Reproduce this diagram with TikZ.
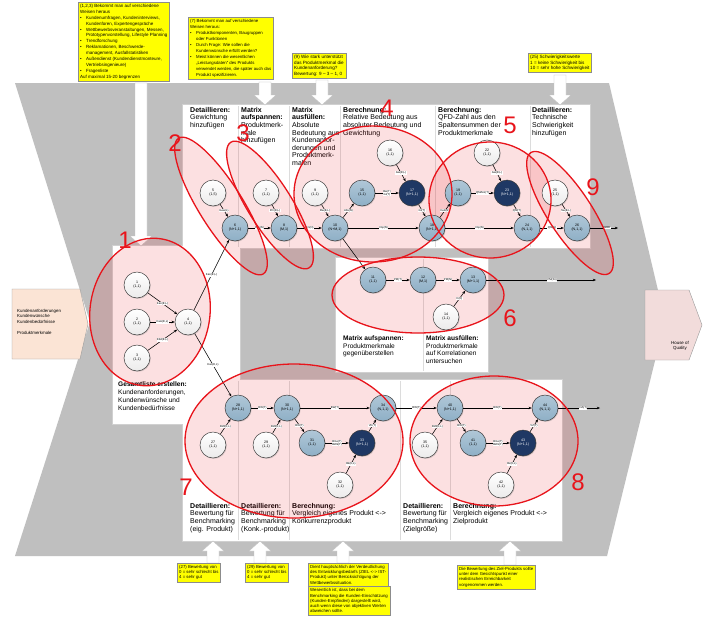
\documentclass[tikz,border=0pt]{standalone}
\usepackage{fontspec}
\setmainfont{Liberation Sans}
\usetikzlibrary{arrows.meta,shapes.geometric,shadows}
\definecolor{bandgray}{HTML}{BFBFBF}
\definecolor{panelline}{HTML}{D0D0D0}
\definecolor{divline}{HTML}{DCDCDC}
\definecolor{noteyellow}{HTML}{FFFF00}
\definecolor{nodeblue}{HTML}{8EAFC6}
\definecolor{nodenavy}{HTML}{1F3864}
\definecolor{nodeline}{HTML}{3A3A3A}
\definecolor{inpeach}{HTML}{FBE4D5}
\definecolor{hoqpink}{HTML}{F2DCDB}
\definecolor{markred}{HTML}{E8141B}
\newcommand\bulx{\makebox[6pt][l]{\textbullet}}
\newcommand\indx{\hspace*{6pt}}
\newcommand\downblock[3]{\filldraw[blockarrow] (#1-6,#2) -- (#1-6,#3-10) -- (#1-11,#3-10) -- (#1,#3) -- (#1+11,#3-10) -- (#1+6,#3-10) -- (#1+6,#2) -- cycle;}
\newcommand\upblock[3]{\filldraw[blockarrow] (#1-6,#2) -- (#1-6,#3+10) -- (#1-11,#3+10) -- (#1,#3) -- (#1+11,#3+10) -- (#1+6,#3+10) -- (#1+6,#2) -- cycle;}
\begin{document}
\begin{tikzpicture}[x=1pt,y=-1pt,
  wnode/.style={circle,draw=nodeline,line width=0.5pt,minimum size=26pt,inner sep=0pt,top color=white,bottom color=red!6!black!8,font=\fontsize{3.6}{4.2}\selectfont,align=center,drop shadow={shadow xshift=0.8pt,shadow yshift=-0.9pt,opacity=0.3}},
  bnode/.style={wnode,top color=nodeblue!70!white,bottom color=nodeblue},
  dnode/.style={wnode,top color=nodenavy,bottom color=nodenavy,text=white},
  lab/.style={fill=white,inner sep=0.4pt,font=\fontsize{2.8}{3.1}\selectfont,align=center},
  conn/.style={-{Stealth[length=3.2pt,width=2.6pt]},line width=0.55pt,black},
  ptext/.style={anchor=north west,inner sep=0pt,align=left,font=\fontsize{7.0}{7.6}\selectfont},
  notebox/.style={draw=black!45,fill=noteyellow,line width=0.4pt,anchor=north west,inner sep=2pt,align=left,font=\fontsize{4.3}{5.3}\selectfont},
  rednum/.style={text=markred,font=\fontsize{24}{24}\selectfont,inner sep=0pt},
  hilitefill/.style={fill=markred,fill opacity=0.13},
  hiliteline/.style={draw=markred,line width=1.3pt},
  blockarrow/.style={fill=white,draw=black!25,line width=0.4pt}]
\useasboundingbox (0,0) rectangle (703,624);
\fill[white] (0,0) rectangle (703,624);
% gray band
\fill[bandgray] (15,83) -- (609,83) -- (665,320) -- (607,556) -- (15,556) -- (90,322) -- cycle;
% panels
\foreach \a/\b/\c/\d in {183/105/590/248, 113/246/240/424, 336/258/488/372, 183/380/562/541}
  \fill[panelline] (\a-0.7,\b-0.7) rectangle (\c+0.7,\d+0.7);
\foreach \a/\b/\c/\d in {183/105/590/248, 113/246/240/424, 336/258/488/372, 183/380/562/541}
  \fill[white] (\a,\b) rectangle (\c,\d);
\foreach \xx in {238,289,340,435,530} \draw[divline,line width=0.4pt] (\xx,106) -- (\xx,247);
\foreach \xx in {238,289,400,450} \draw[divline,line width=0.4pt] (\xx,381) -- (\xx,540);
\draw[divline,line width=0.4pt] (423,259) -- (423,371);
% input and output boxes
\draw[fill=inpeach,draw=black!40,line width=0.4pt] (12,289) -- (80,289) -- (88,324) -- (80,359) -- (12,359) -- cycle;
\node[anchor=north west,inner sep=0pt,align=left,font=\fontsize{4.4}{5.6}\selectfont] (intext) at (17,309) {Kundenanforderungen\\Kundenwünsche\\Kundenbedürfnisse\\[5pt]Produktmerkmale};
\draw[fill=hoqpink,draw=black!40,line width=0.4pt] (645,290) -- (689,290) -- (702,325) -- (689,360) -- (645,360) -- cycle;
\node[anchor=north,inner sep=0pt,align=center,font=\fontsize{4.4}{5.6}\selectfont] (hoq) at (680,341) {House of\\Quality};
% block arrows
\downblock{141}{83}{246}
\downblock{265}{82}{105}
\downblock{322}{80}{105}
\downblock{560}{75}{105}
\upblock{213}{563}{541}
\upblock{260}{563}{541}
\upblock{343}{563}{541}
\upblock{510}{565}{541}
% notes top
\node[notebox,font=\fontsize{4.5}{5.9}\selectfont] (note1) at (78,2) {(1,2,3) Bekommt man auf verschiedene\\Weisen heraus\\
\bulx Kundenumfragen, Kundeninterviews,\\\indx Kundenforen, Expertengespräche\\
\bulx Wettbewerbsveranstaltungen, Messen,\\\indx Prototypenvorstellung, Lifestyle Planning\\
\bulx Trendforschung\\
\bulx Reklamationen, Beschwerde-\\\indx management, Ausfallstatistiken\\
\bulx Außendienst (Kundendienstmonteure,\\\indx Vertriebsingenieure)\\
\bulx Fragenliste\\Auf maximal 15-20 begrenzen};
\node[notebox,font=\fontsize{4.3}{6.0}\selectfont] (note2) at (188,17) {(7) Bekommt man auf verschiedene\\Weisen heraus:\\
\bulx Produktkomponenten, Baugruppen\\\indx oder Funktionen\\
\bulx Durch Frage: Wie sollen die\\\indx Kundenwünsche erfüllt werden?\\
\bulx Meist können die wesentlichen\\\indx „Leistungsdaten“ des Produkts\\\indx verwendet werden, die später auch das\\\indx Produkt spezifizieren.};
\node[notebox,font=\fontsize{4.6}{5.6}\selectfont] (note3) at (292,53) {(9) Wie stark unterstützt\\das Produktmerkmal die\\Kundenanforderung?\\Bewertung: 9 – 3 – 1, 0};
\node[notebox,font=\fontsize{4.6}{5.6}\selectfont] (note4) at (528,53) {(25) Schwierigkeitswerte\\1 = keine Schwierigkeit bis\\10 = sehr hohe Schwierigkeit};
% notes bottom
\node[notebox] (note27) at (177,563) {(27) Bewertung von\\0 = sehr schlecht bis\\4 = sehr gut};
\node[notebox] (note29) at (245,563) {(29) Bewertung von\\0 = sehr schlecht bis\\4 = sehr gut};
\node[notebox] (notebig) at (308,563) {Dient hauptsächlich der Verdeutlichung\\des Entwicklungsbedarfs (ZIEL <-> IST-\\Produkt) unter Berücksichtigung der\\Wettbewerbssituation.};
\node[notebox] (notebig2) at (notebig.south west) {Wesentlich ist, dass bei dem\\Benchmarking die Kunden-Einschätzung\\(Kunden-Empfinden) dargestellt wird,\\auch wenn diese von objektiven Werten\\abweichen sollte.};
\node[notebox] (noteziel) at (457,565) {Die Bewertung des Ziel-Produkts sollte\\unter dem Gesichtspunkt einer\\realistischen Erreichbarkeit\\vorgenommen werden.};
% panel texts
\node[ptext] (tb1) at (190,107) {\textbf{Detaillieren:}\\Gewichtung\\hinzufügen};
\node[ptext] (tb2) at (241,107) {\textbf{Matrix}\\\textbf{aufspannen:}\\Produktmerk-\\male\\hinzufügen};
\node[ptext] (tb3) at (292,107) {\textbf{Matrix}\\\textbf{ausfüllen:}\\Absolute\\Bedeutung aus\\Kundenanfor-\\derungen und\\Produktmerk-\\malen};
\node[ptext] (tb4) at (343,107) {\textbf{Berechnung:}\\Relative Bedeutung aus\\absoluter Bedeutung und\\Gewichtung};
\node[ptext] (tb5) at (438,107) {\textbf{Berechnung:}\\QFD-Zahl aus den\\Spaltensummen der\\Produktmerkmale};
\node[ptext] (tb6) at (532,107) {\textbf{Detaillieren:}\\Technische\\Schwierigkeit\\hinzufügen};
\node[ptext,font=\fontsize{6.6}{7.5}\selectfont] (tc1) at (343,336) {\textbf{Matrix aufspannen:}\\Produktmerkmale\\gegenüberstellen};
\node[ptext,font=\fontsize{6.6}{7.5}\selectfont] (tc2) at (426,336) {\textbf{Matrix ausfüllen:}\\Produktmerkmale\\auf Korrelationen\\untersuchen};
\node[ptext,font=\fontsize{6.6}{7.8}\selectfont] (ta1) at (118,382) {\textbf{Gesamtliste erstellen:}\\Kundenanforderungen,\\Kundenwünsche und\\Kundenbedürfnisse};
\node[ptext] (td1) at (190,503) {\textbf{Detaillieren:}\\Bewertung für\\Benchmarking\\(eig. Produkt)};
\node[ptext] (td2) at (241,503) {\textbf{Detaillieren:}\\Bewertung für\\Benchmarking\\(Konk.-produkt)};
\node[ptext] (td3) at (292,503) {\textbf{Berechnung:}\\Vergleich eigenes Produkt <->\\Konkurrenzprodukt};
\node[ptext] (td4) at (403,503) {\textbf{Detaillieren:}\\Bewertung für\\Benchmarking\\(Zielgröße)};
\node[ptext] (td5) at (453,503) {\textbf{Berechnung:}\\Vergleich eigenes Produkt <->\\Zielprodukt};
% highlight fills (under the graph)
\foreach \cx/\cy/\rx/\ry/\rt in {150/312/60/74/-8, 221/206/80/22/-58, 270/205/74/22/-58, 373/194/79/68/0, 490/200/61/58/0, 570/213/72/22/-57, 418/295/86/38/0, 294/441/109/77/0, 494/441/84/65/0}
  \fill[hilitefill] (\cx,\cy) ellipse [x radius=\rx, y radius=\ry, rotate=\rt];
% nodes
\node[wnode] (n1) at (137,285) {1\\(1,1)};
\node[wnode] (n2) at (137,322) {2\\(1,1)};
\node[wnode] (n3) at (137,358) {3\\(1,1)};
\node[wnode] (n4) at (188,322) {4\\(1,1)};
\node[wnode] (n5) at (213,193) {5\\(1,5)};
\node[bnode] (n6) at (235,228) {6\\(N+1,1)};
\node[wnode] (n7) at (266,193) {7\\(1,1)};
\node[bnode] (n8) at (284,228) {8\\(M,1)};
\node[wnode] (n9) at (315,193) {9\\(1,1)};
\node[bnode] (n10) at (335,228) {10\\(N+M,1)};
\node[bnode] (n15) at (362,193) {15\\(1,1)};
\node[wnode] (n16) at (390,153) {16\\(1,1)};
\node[dnode] (n17) at (412,193) {17\\(N+1,1)};
\node[bnode] (n18) at (432,228) {18\\(N+1,1)};
\node[bnode] (n19) at (458,193) {19\\(1,1)};
\node[wnode] (n22) at (487,153) {22\\(1,1)};
\node[dnode] (n23) at (507,193) {23\\(N+1,1)};
\node[bnode] (n24) at (527,228) {24\\(N,1,1)};
\node[wnode] (n25) at (555,193) {25\\(1,1)};
\node[bnode] (n26) at (577,228) {26\\(N,1,1)};
\node[bnode] (n11) at (373,280) {11\\(1,1)};
\node[bnode] (n12) at (423,280) {12\\(M,1)};
\node[bnode] (n13) at (473,280) {13\\(M+1,1)};
\node[wnode] (n14) at (446,317) {14\\(1,1)};
\node[bnode] (n28) at (238,408) {28\\(N+1,1)};
\node[wnode] (n27) at (213,445) {27\\(1,1)};
\node[bnode] (n30) at (287,408) {30\\(N+1,1)};
\node[wnode] (n29) at (266,445) {29\\(1,1)};
\node[bnode] (n31) at (312,443) {31\\(1,1)};
\node[dnode] (n33) at (362,443) {33\\(N+1,1)};
\node[wnode] (n32) at (340,485) {32\\(1,1)};
\node[bnode] (n34) at (383,408) {34\\(N,1,1)};
\node[bnode] (n40) at (450,408) {40\\(N+1,1)};
\node[wnode] (n35) at (425,445) {35\\(1,1)};
\node[bnode] (n41) at (473,443) {41\\(1,1)};
\node[dnode] (n43) at (523,443) {43\\(N+1,1)};
\node[wnode] (n42) at (501,485) {42\\(1,1)};
\node[bnode] (n44) at (545,408) {44\\(N,1,1)};
\coordinate (o26) at (618,228);
\coordinate (o13) at (596,280);
\coordinate (o44) at (600,408);
% connectors
\draw[conn] (n1) -- node[lab]{Kan(E,L)} (n4);
\draw[conn] (n2) -- node[lab]{Kwü(E,L)} (n4);
\draw[conn] (n3) -- node[lab]{Kbd(E,L)} (n4);
\draw[conn] (n4) -- node[lab]{Kan(E,L)} (n6);
\draw[conn] (n4) -- node[lab]{Kan(E,L)} (n28);
\draw[conn] (n5) -- node[lab]{Gew(L)} (n6);
\draw[conn] (n6) -- node[lab]{Kan(N)} (n8);
\draw[conn] (n7) -- node[lab]{Pm(E,L)} (n8);
\draw[conn] (n8) -- node[lab]{Pm(N)} (n10);
\draw[conn] (n9) -- node[lab]{Bw(E,L)} (n10);
\draw[conn] (n10) -- node[lab]{Abs(N)} (n15);
\draw[conn] (n10) -- node[lab]{Imp(N)} (n18);
\draw[conn] (n10) -- (n11);
\draw[conn] (n15) -- node[lab]{Bw(T)\\Gt(T)} (n17);
\draw[conn] (n16) -- node[lab]{Gw(E,L)} (n17);
\draw[conn] (n17) -- node[lab]{Gt(T)} (n18);
\draw[conn] (n18) -- node[lab]{Ked(N)} (n19);
\draw[conn] (n18) -- node[lab]{Imp(N)} (n24);
\draw[conn] (n19) -- node[lab]{QfdAnz(T)} (n23);
\draw[conn] (n22) -- node[lab]{Gw(E,L)} (n23);
\draw[conn] (n23) -- node[lab]{Qfd(T)} (n24);
\draw[conn] (n24) -- node[lab]{Qfd(N)} (n26);
\draw[conn] (n25) -- node[lab]{Sw(E,L)} (n26);
\draw[conn] (n26) -- node[lab,pos=0.6]{WBD} (o26);
\draw[conn] (n11) -- node[lab]{PM(T)} (n12);
\draw[conn] (n12) -- node[lab]{PM(N)} (n13);
\draw[conn] (n14) -- node[lab]{K(E)} (n13);
\draw[conn] (n13) -- node[lab,pos=0.6]{PM(34)} (o13);
\draw[conn] (n27) -- node[lab]{BW(E,L)} (n28);
\draw[conn] (n28) -- node[lab]{BW(T)} (n30);
\draw[conn] (n29) -- node[lab]{BW(E,L)} (n30);
\draw[conn] (n30) -- node[lab]{BW(T)} (n34);
\draw[conn] (n30) -- node[lab]{BW(T)} (n31);
\draw[conn] (n31) -- node[lab]{Bme(T)\\BWk(T)} (n33);
\draw[conn] (n32) -- node[lab]{Bk(E,L)} (n33);
\draw[conn] (n33) -- node[lab]{VK(T)} (n34);
\draw[conn] (n34) -- node[lab]{BW(T)} (n40);
\draw[conn] (n35) -- node[lab]{BW(E,L)} (n40);
\draw[conn] (n40) -- node[lab]{BW(T)} (n44);
\draw[conn] (n40) -- node[lab]{BW(T)} (n41);
\draw[conn] (n41) -- node[lab]{Bme(T)\\BWz(T)} (n43);
\draw[conn] (n42) -- node[lab]{Bz(E,L)} (n43);
\draw[conn] (n43) -- node[lab]{VZ(T)} (n44);
\draw[conn] (n44) -- node[lab,pos=0.6]{DA(T)} (o44);
% red highlight outlines
\foreach \cx/\cy/\rx/\ry/\rt in {150/312/60/74/-8, 221/206/80/22/-58, 270/205/74/22/-58, 373/194/79/68/0, 490/200/61/58/0, 570/213/72/22/-57, 418/295/86/38/0, 294/441/109/77/0, 494/441/84/65/0}
  \draw[hiliteline] (\cx,\cy) ellipse [x radius=\rx, y radius=\ry, rotate=\rt];
% red numbers
\node[rednum] (r1) at (125,240) {1};
\node[rednum] (r2) at (175,143) {2};
\node[rednum] (r3) at (243,133) {3};
\node[rednum] (r4) at (387,108) {4};
\node[rednum] (r5) at (510,125) {5};
\node[rednum] (r6) at (510,318) {6};
\node[rednum] (r7) at (186,487) {7};
\node[rednum] (r8) at (578,482) {8};
\node[rednum] (r9) at (593,187) {9};
\end{tikzpicture}
\end{document}
